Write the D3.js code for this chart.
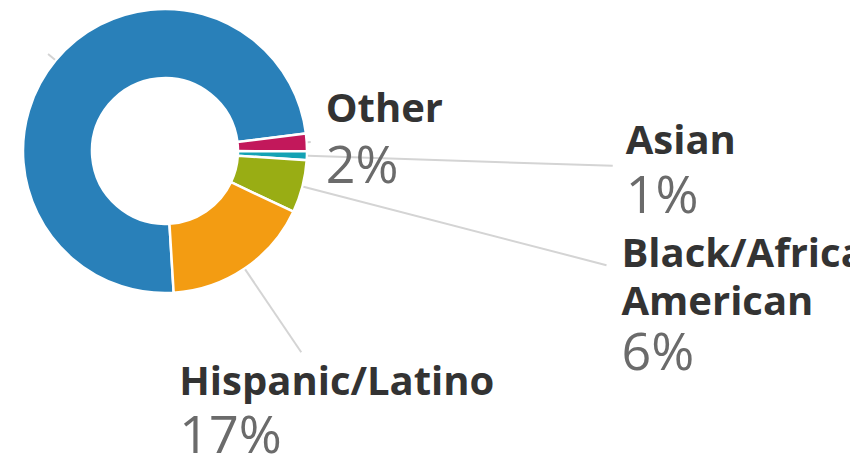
<!DOCTYPE html>
<html>
<head>
<meta charset="utf-8">
<script src="https://cdn.jsdelivr.net/npm/d3@7/dist/d3.min.js"></script>
<style>
  html, body { margin: 0; padding: 0; background: #fff; overflow: hidden; }
  svg { display: block; }
</style>
</head>
<body>
<script>
// ---- data ----
const categories = ["White", "Other", "Asian", "Black/African American", "Hispanic/Latino"];
const values = [74, 2, 1, 6, 17];
const nameLines = [[], ["Other"], ["Asian"], ["Black/African", "American"], ["Hispanic/Latino"]];
const pctLabels = ["74%", "2%", "1%", "6%", "17%"];
const colors = ["#2980b9", "#c2185b", "#14a2b4", "#99ad14", "#f39c12"];

// ---- layout ----
const W = 850, H = 461;
const cx = 165, cy = 151, rOuter = 142, rInner = 73;
const startAngle = Math.PI - 3.5 * Math.PI / 180;
// leader-line end radius and label anchor offsets (relative to line end)
const lineEndR = [152, 146, 448, 456, 243];
const labelOff = [null, {dx: 15, dy: -20}, {dx: 13, dy: -12}, {dx: 15, dy: 2}, {dx: -122, dy: 43}];
const nameSize = 40, pctSize = 52, nameLH = 48, pctGap = [0, 61, 59, 55, 58];

const svg = d3.select("body").append("svg").attr("width", W).attr("height", H);
const g = svg.append("g").attr("transform", `translate(${cx},${cy})`);

const pie = d3.pie().sort(null).value(d => d.v)
  .startAngle(startAngle).endAngle(startAngle + 2 * Math.PI);
const data = categories.map((c, i) => ({c, v: values[i], i}));
const arcs = pie(data);
const arc = d3.arc().innerRadius(rInner).outerRadius(rOuter);

// leader lines (under slices/text)
const lines = svg.append("g");
arcs.forEach((a, i) => {
  const m = (a.startAngle + a.endAngle) / 2;
  const ux = Math.sin(m), uy = -Math.cos(m);
  lines.append("line")
    .attr("x1", cx + ux * (rOuter + 1)).attr("y1", cy + uy * (rOuter + 1))
    .attr("x2", cx + ux * lineEndR[i]).attr("y2", cy + uy * lineEndR[i])
    .attr("stroke", "#d4d4d4").attr("stroke-width", 2);
});

g.selectAll("path").data(arcs).join("path")
  .attr("d", arc)
  .attr("fill", d => colors[d.data.i])
  .attr("stroke", "#fff").attr("stroke-width", 2.5).attr("stroke-linejoin", "miter");

// labels
const labels = svg.append("g").attr("font-family", "'Open Sans', sans-serif");
arcs.forEach((a, i) => {
  if (!labelOff[i]) return;
  const m = (a.startAngle + a.endAngle) / 2;
  const ex = cx + Math.sin(m) * lineEndR[i], ey = cy - Math.cos(m) * lineEndR[i];
  const x = ex + labelOff[i].dx, y = ey + labelOff[i].dy;
  nameLines[i].forEach((ln, k) => {
    labels.append("text").attr("x", x).attr("y", y + k * nameLH)
      .attr("font-size", nameSize).attr("font-weight", 700).attr("fill", "#333")
      .text(ln);
  });
  labels.append("text")
    .attr("x", x).attr("y", y + (nameLines[i].length - 1) * nameLH + pctGap[i])
    .attr("font-size", pctSize).attr("font-weight", 400).attr("fill", "#6b6b6b")
    .text(pctLabels[i]);
});
</script>
</body>
</html>
